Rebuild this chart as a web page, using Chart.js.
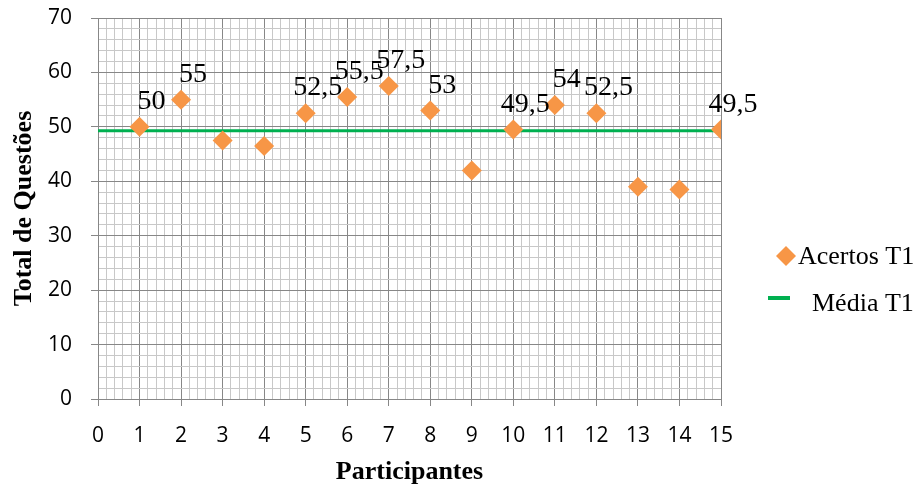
<!DOCTYPE html>
<html>
<head>
<meta charset="utf-8">
<script src="https://cdn.jsdelivr.net/npm/chart.js@4.4.0/dist/chart.umd.min.js"></script>
<style>
  html, body { margin: 0; padding: 0; background: #ffffff; }
  #wrap { width: 918px; height: 488px; }
</style>
</head>
<body>
<div id="wrap"><canvas id="chart" width="918" height="488"></canvas></div>
<script>
// ---- data ----
const participants = [1, 2, 3, 4, 5, 6, 7, 8, 9, 10, 11, 12, 13, 14, 15];
const acertosT1 = [50, 55, 47.5, 46.5, 52.5, 55.5, 57.5, 53, 42, 49.5, 54, 52.5, 39, 38.5, 49.5];
// labels shown next to the points (null = no label in the original)
const pointLabels = ['50', '55', null, null, '52,5', '55,5', '57,5', '53', null, '49,5', '54', '52,5', null, null, '49,5'];
const mediaT1 = 49.3;
const mediaRange = [0, 15];
const seriesNames = ['Acertos T1', 'Média T1'];

const ORANGE = '#F79646';
const GREEN = '#00B050';
const MAJOR = '#878787';
const MINOR = '#c8c8c8';
const SERIF = '"Liberation Serif", "Times New Roman", serif';

const isMult = (v, m) => Math.abs(v / m - Math.round(v / m)) < 1e-6;

// value labels above the diamonds (Excel style)
const valueLabels = {
    id: 'valueLabels',
    afterDatasetsDraw(chart) {
        const meta = chart.getDatasetMeta(0);
        const ctx = chart.ctx;
        ctx.save();
        ctx.font = '28px ' + SERIF;
        ctx.fillStyle = '#000';
        ctx.textAlign = 'center';
        ctx.textBaseline = 'alphabetic';
        meta.data.forEach((pt, i) => {
            if (!pointLabels[i]) return;
            ctx.fillText(pointLabels[i], pt.x + 12, pt.y - 18);
        });
        ctx.restore();
    }
};

// legend on the right, drawn by hand to match the layout
const sideLegend = {
    id: 'sideLegend',
    afterDraw(chart) {
        const ctx = chart.ctx;
        ctx.save();
        ctx.font = '26px ' + SERIF;
        ctx.textBaseline = 'middle';

        // diamond
        const dx = 786, dy = 256, r = 10;
        ctx.fillStyle = ORANGE;
        ctx.beginPath();
        ctx.moveTo(dx, dy - r);
        ctx.lineTo(dx + r, dy);
        ctx.lineTo(dx, dy + r);
        ctx.lineTo(dx - r, dy);
        ctx.closePath();
        ctx.fill();
        ctx.fillStyle = '#000';
        ctx.fillText(seriesNames[0], 798, dy + 1);

        // line
        ctx.strokeStyle = GREEN;
        ctx.lineWidth = 4;
        ctx.beginPath();
        ctx.moveTo(768, 298);
        ctx.lineTo(790, 298);
        ctx.stroke();
        ctx.fillText(seriesNames[1], 812, 304);
        ctx.restore();
    }
};

new Chart(document.getElementById('chart'), {
    type: 'scatter',
    data: {
        datasets: [
            {
                label: seriesNames[0],
                data: participants.map((p, i) => ({ x: p, y: acertosT1[i] })),
                pointStyle: 'rectRot',
                pointRadius: 10,
                pointHoverRadius: 10,
                backgroundColor: ORANGE,
                borderColor: ORANGE,
                borderWidth: 0
            },
            {
                label: seriesNames[1],
                data: mediaRange.map(x => ({ x: x, y: mediaT1 })),
                showLine: true,
                pointRadius: 0,
                borderColor: GREEN,
                backgroundColor: GREEN,
                borderWidth: 3
            }
        ]
    },
    options: {
        responsive: false,
        animation: false,
        layout: { padding: { top: 18, right: 197, left: 0, bottom: 0 } },
        plugins: {
            legend: { display: false },
            tooltip: { enabled: false }
        },
        scales: {
            x: {
                type: 'linear',
                min: 0,
                max: 15,
                afterFit(scale) {
                    scale.height = 89;
                    scale.paddingLeft = 0;
                    scale.paddingRight = 0;
                },
                ticks: {
                    stepSize: 0.2,
                    autoSkip: false,
                    maxRotation: 0,
                    padding: 17,
                    color: '#000',
                    font: { family: '"Open Sans", sans-serif', size: 21 },
                    callback: v => isMult(v, 1) ? String(Math.round(v)) : ''
                },
                grid: {
                    color: c => isMult(c.tick.value, 1) ? MAJOR : MINOR,
                    tickColor: c => isMult(c.tick.value, 1) ? MAJOR : 'rgba(0,0,0,0)',
                    tickLength: 7,
                    lineWidth: 1
                },
                border: { color: MAJOR, width: 1 },
                title: {
                    display: true,
                    text: 'Participantes',
                    color: '#000',
                    font: { family: SERIF, size: 26, weight: 'bold' },
                    padding: { top: 0, bottom: 0 }
                }
            },
            y: {
                type: 'linear',
                min: 0,
                max: 70,
                afterFit(scale) {
                    scale.width = 98;
                    scale.paddingTop = 0;
                    scale.paddingBottom = 0;
                },
                ticks: {
                    stepSize: 2,
                    autoSkip: false,
                    padding: 19,
                    color: '#000',
                    font: { family: '"Open Sans", sans-serif', size: 21 },
                    callback: v => isMult(v, 10) ? String(Math.round(v)) : ''
                },
                grid: {
                    color: c => isMult(c.tick.value, 10) ? MAJOR : MINOR,
                    tickColor: c => isMult(c.tick.value, 10) ? MAJOR : 'rgba(0,0,0,0)',
                    tickLength: 7,
                    lineWidth: 1
                },
                border: { color: MAJOR, width: 1 },
                title: {
                    display: true,
                    text: 'Total de Questões',
                    color: '#000',
                    font: { family: SERIF, size: 26, weight: 'bold' },
                    padding: { top: 9, bottom: 0 }
                }
            }
        }
    },
    plugins: [valueLabels, sideLegend]
});
</script>
</body>
</html>
